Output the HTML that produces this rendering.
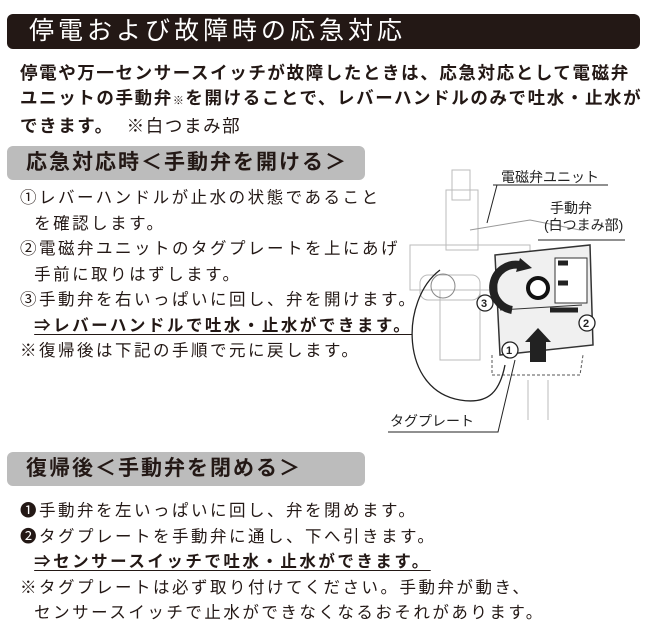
<!DOCTYPE html>
<html><head><meta charset="utf-8"><style>
body{margin:0;width:656px;height:640px;background:#fff;position:relative;overflow:hidden;font-family:"Liberation Sans","Noto Sans CJK JP",sans-serif;color:#231815}
.a{position:absolute;white-space:nowrap}
.hd{left:7px;top:14px;width:633px;height:35px;background:#231815;border-radius:6px;color:#fff;font-size:25px;line-height:35px;padding-left:22px;box-sizing:border-box;letter-spacing:4px}
.b{font-size:17.5px;font-weight:bold;line-height:25px;letter-spacing:1.6px}
.sec{left:7px;width:358px;height:34px;background:#bcbcbc;border-radius:6px;font-size:21px;font-weight:bold;line-height:34px;padding-left:19px;box-sizing:border-box;letter-spacing:2px}
.t{font-size:16.5px;line-height:25.5px;letter-spacing:2.5px}
u{text-underline-offset:3px}
</style></head><body>
<div class="a hd">停電および故障時の応急対応</div>
<div class="a b" style="left:20px;top:61px">停電や万一センサースイッチが故障したときは、応急対応として電磁弁<br>ユニットの手動弁<span style="font-size:11px;font-weight:normal">※</span>を開けることで、レバーハンドルのみで吐水・止水が<br>できます。 <span style="font-weight:normal">&nbsp;※白つまみ部</span></div>
<div class="a sec" style="top:146px">応急対応時＜手動弁を開ける＞</div>
<div class="a t" style="left:20px;top:186px">①レバーハンドルが止水の状態であること<br>&nbsp;&nbsp;を確認します。<br>②電磁弁ユニットのタグプレートを上にあげ<br>&nbsp;&nbsp;手前に取りはずします。<br>③手動弁を右いっぱいに回し、弁を開けます。<br><b>&nbsp;&nbsp;<u>⇒レバーハンドルで吐水・止水ができます。</u></b><br>※復帰後は下記の手順で元に戻します。</div>
<div class="a sec" style="top:452px">復帰後＜手動弁を閉める＞</div>
<div class="a t" style="left:20px;top:499px">❶手動弁を左いっぱいに回し、弁を閉めます。<br>❷タグプレートを手動弁に通し、下へ引きます。<br><b>&nbsp;&nbsp;<u>⇒センサースイッチで吐水・止水ができます。</u></b><br>※タグプレートは必ず取り付けてください。手動弁が動き、<br>&nbsp;&nbsp;センサースイッチで止水ができなくなるおそれがあります。</div>
<svg class="a" style="left:380px;top:160px" width="270" height="280" viewBox="0 0 270 280" fill="none" stroke="#bbb" stroke-width="1">
<rect x="72" y="10" width="18" height="30"/><rect x="66" y="30" width="32" height="60"/>
<rect x="30" y="85" width="120" height="45"/><rect x="40" y="115" width="60" height="25" rx="8"/>
<rect x="60" y="130" width="40" height="70"/><line x1="148" y1="220" x2="148" y2="260"/><line x1="168" y1="220" x2="168" y2="260"/>
<path d="M90 70 L150 60 L200 70" stroke="#999"/>
<path d="M115 95 L210 85 L213 185 L120 195 Z" fill="#f0f0f0" stroke="#333" stroke-width="1.5"/>
<path d="M120 150 L202 145" stroke="#333"/>
<rect x="175" y="98" width="32" height="45" stroke="#333" fill="#fff"/>
<circle cx="158" cy="128" r="10" stroke="#111" stroke-width="4" fill="#fff"/>
<path d="M132 150 A22 22 0 0 1 140 105" stroke="#222" stroke-width="8"/>
<path d="M140 98 L152 108 L136 112 Z" fill="#222" stroke="none"/>
<rect x="150" y="180" width="16" height="22" fill="#222" stroke="none"/><path d="M145 182 L158 168 L171 182 Z" fill="#222" stroke="none"/>
<path d="M178 103h10M178 123h10M170 150h28" stroke="#222" stroke-width="5"/>
<path d="M112 195 L112 215 L200 215 L203 195" stroke="#555" stroke-dasharray="3 2"/>
<path d="M60 110 C20 140 20 230 80 240 C110 245 120 230 125 205" stroke="#222" stroke-width="1.3"/>
<circle cx="63" cy="126" r="12" stroke="#888"/>
<g stroke="#222" fill="#fff" stroke-width="1.3"><circle cx="105" cy="143" r="8"/><circle cx="130" cy="190" r="8"/><circle cx="207" cy="163" r="8"/></g>
<g font-family="Liberation Sans" font-size="11" font-weight="bold" fill="#222" stroke="none"><text x="101" y="147">3</text><text x="126" y="194">1</text><text x="203" y="167">2</text></g>
<path d="M113 25 L228 25 M117 25 L107 63" stroke="#222"/>
<path d="M158 80 L245 80" stroke="#222"/>
<path d="M8 272 L118 272 L135 200" stroke="#222"/>
<g font-family="Liberation Sans,Noto Sans CJK JP,sans-serif" font-size="14" fill="#222" stroke="none"><text x="121" y="22">電磁弁ユニット</text><text x="170" y="53">手動弁</text><text x="164" y="70">(白つまみ部)</text><text x="10" y="266">タグプレート</text></g>
</svg>
</body></html>
